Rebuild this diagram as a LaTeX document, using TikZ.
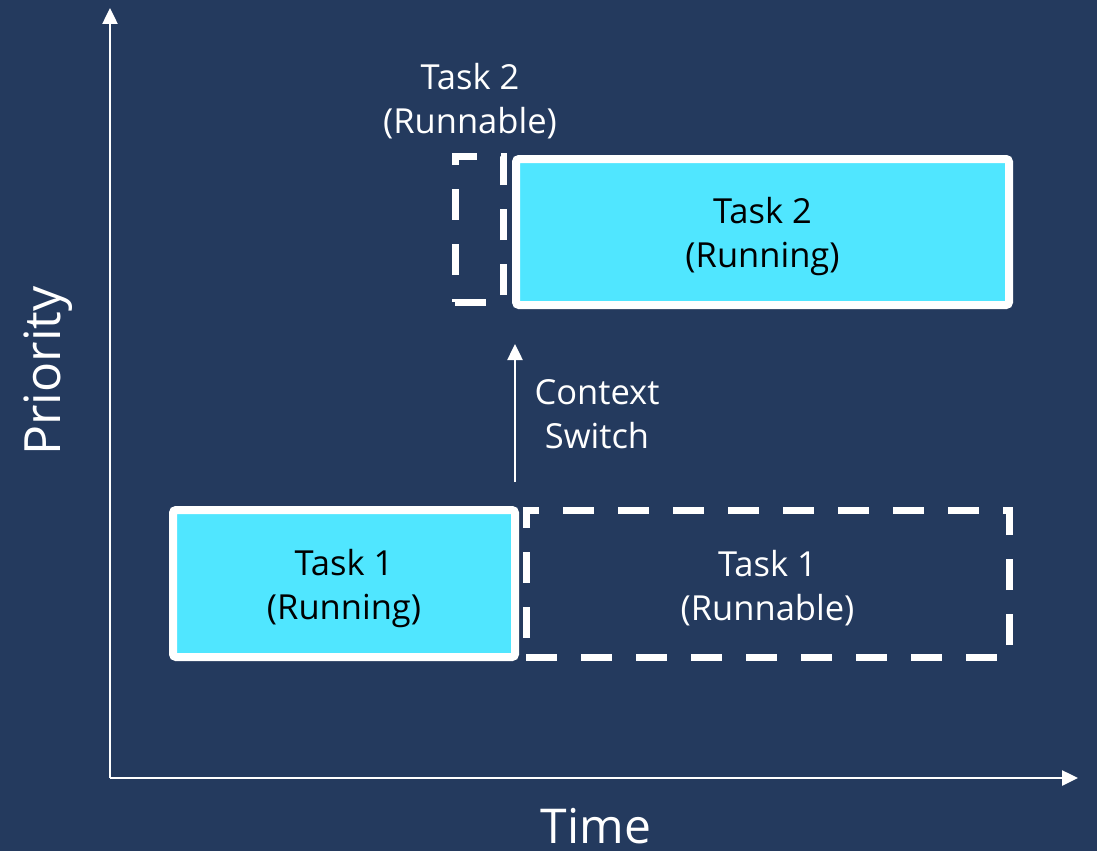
\documentclass[tikz,border=0pt]{standalone}
\usepackage{fontspec}
\setmainfont{Open Sans}
\usetikzlibrary{arrows.meta}
\definecolor{navy}{HTML}{243A5E}
\definecolor{cyanfill}{HTML}{50E6FF}
\newcommand{\boxfont}{\fontsize{34.5}{44}\selectfont}
\tikzset{
  axis/.style={draw=white, line width=2.5pt, -{Triangle[length=16pt, width=15pt]}},
  runbox/.style={draw=white, fill=cyanfill, line width=8pt, rounded corners=3pt,
    inner sep=0pt},
  waitbox/.style={draw=white, line width=7pt, dash pattern=on 31pt off 24pt,
    inner sep=0pt},
  lbl/.style={text=white, align=center, inner sep=0pt, font=\boxfont},
  boxtext/.style={lbl, yshift=-5pt},
}
\begin{document}
\begin{tikzpicture}[x=1pt, y=-1pt]
  \fill[navy] (0,0) rectangle (1097,851);
  \useasboundingbox (0,0) rectangle (1097,851);

  % axes
  \coordinate (origin) at (110,778);
  \coordinate (ytip) at (110,8);
  \coordinate (xtip) at (1078,778);
  \draw[axis] (origin) -- (ytip);
  \draw[axis] (origin) -- (xtip);
  \node[lbl, font=\fontsize{48}{58}\selectfont, anchor=base, text depth=0pt] (time)
    at (596,843) {Time};
  \node[lbl, font=\fontsize{50}{60}\selectfont, rotate=90] (prio) at (48,371) {Priority};

  % task boxes
  \node[runbox, minimum width=342pt, minimum height=147pt] (t1run) at (344,583.5) {};
  \node[boxtext, text=black] (t1runtxt) at (t1run.center) {Task 1\\(Running)};
  \node[waitbox, minimum width=483pt, minimum height=147pt] (t1wait) at (767.5,583.5) {};
  \node[boxtext] (t1waittxt) at (t1wait.center) {Task 1\\(Runnable)};
  \node[runbox, minimum width=493pt, minimum height=146pt] (t2run) at (762.5,232) {};
  \node[boxtext, text=black] (t2runtxt) at (t2run.center) {Task 2\\(Running)};
  \node[waitbox, minimum width=48pt, minimum height=146pt] (t2wait) at (479,229) {};
  \node[lbl] (t2lbl) at (470,101) {Task 2\\(Runnable)};

  % context switch
  \coordinate (csfrom) at (515,482);
  \coordinate (csto) at (515,344);
  \draw[axis] (csfrom) -- (csto);
  \node[lbl] (cs) at (597,414) {Context\\Switch};
\end{tikzpicture}
\end{document}
